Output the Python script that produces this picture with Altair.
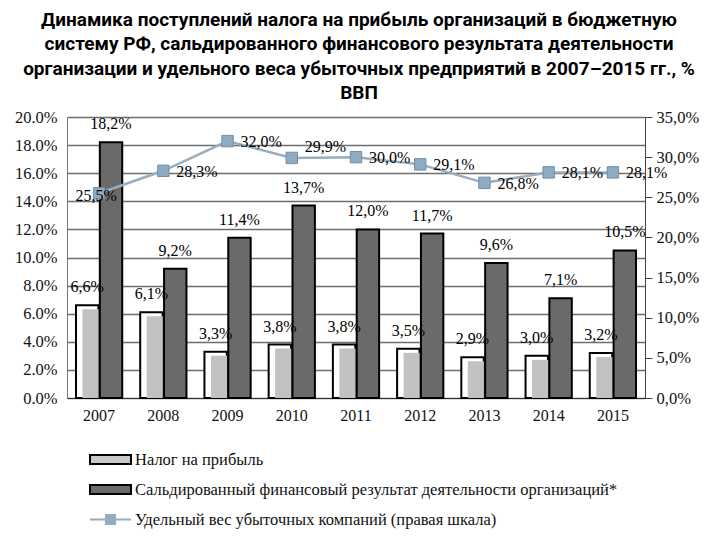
import altair as alt
import pandas as pd

years = ["2007", "2008", "2009", "2010", "2011", "2012", "2013", "2014", "2015"]
tax = [6.6, 6.1, 3.3, 3.8, 3.8, 3.5, 2.9, 3.0, 3.2]
fin = [18.2, 9.2, 11.4, 13.7, 12.0, 11.7, 9.6, 7.1, 10.5]
loss = [25.5, 28.3, 32.0, 29.9, 30.0, 29.1, 26.8, 28.1, 28.1]
series_names = [
    "Налог на прибыль",
    "Сальдированный финансовый результат деятельности организаций*",
    "Удельный вес убыточных компаний (правая шкала)",
]
title_lines = [
    "Динамика поступлений налога на прибыль организаций в бюджетную",
    "систему РФ, сальдированного финансового результата деятельности",
    "организации и удельного веса убыточных предприятий в 2007–2015 гг., %",
    "ВВП",
]

bars_df = pd.DataFrame({"year": years * 2, "s": ["a"] * 9 + ["b"] * 9, "v": tax + fin})
line_df = pd.DataFrame({"year": years, "v": loss})
legend_df = pd.DataFrame({"year": [years[0]] * 3, "v": [0] * 3, "series": series_names})

SERIF = "Liberation Serif, Times New Roman, serif"
LBL = "replace(format(datum.v, '.1f'), '.', ',') + '%'"

x_enc = alt.X(
    "year:N",
    scale=alt.Scale(paddingInner=0.28, paddingOuter=0.14),
    axis=alt.Axis(title=None, labelAngle=0, ticks=False, domainColor="#333",
                  labelFontSize=16, labelPadding=9),
)
yl = alt.Y(
    "v:Q",
    scale=alt.Scale(domain=[0, 20], nice=False),
    axis=alt.Axis(title=None, values=list(range(0, 21, 2)),
                  labelExpr="format(datum.value, '.1f') + '%'",
                  grid=True, gridColor="#6e6e6e", gridWidth=1.5, ticks=False,
                  domainColor="#777", labelFontSize=16.5, labelPadding=10),
)
yr = alt.Y(
    "v:Q",
    scale=alt.Scale(domain=[0, 35], nice=False),
    axis=alt.Axis(title=None, orient="right", values=list(range(0, 36, 5)),
                  labelExpr="replace(format(datum.value, '.1f'), '.', ',') + '%'",
                  grid=False, ticks=True, tickSize=7, tickColor="#444",
                  domainColor="#444", labelFontSize=16.5, labelPadding=4),
)
xo = alt.XOffset("s:N", scale=alt.Scale(paddingInner=0.06))

base_bars = alt.Chart(bars_df).encode(x=x_enc, xOffset=xo, y=yl)
bars = base_bars.mark_bar(stroke="black", strokeWidth=2).encode(
    fill=alt.condition("datum.s == 'a'", alt.value("white"), alt.value("#6a6a6a"))
)
inner = base_bars.transform_filter("datum.s == 'a'").mark_bar(
    fill="#c2c2c2", width=alt.RelativeBandSize(0.72), yOffset=4, clip=True
)
bar_text = base_bars.transform_calculate(lbl=LBL).mark_text(
    font=SERIF, fontSize=16, baseline="middle", dy=-18, color="black"
).encode(text="lbl:N")

leg_props = alt.Legend(
    title=None, orient="none", legendX=32, legendY=331, direction="vertical",
    labelFont=SERIF, labelFontSize=16.5, labelColor="#111", symbolSize=420,
    symbolStrokeWidth=2, labelOffset=13, rowPadding=9, padding=0,
    symbolOpacity=1, labelLimit=0,
)
shape_range = [
    "M-2,-0.45H2V0.45H-2Z",
    "M-2,-0.45H2V0.45H-2Z",
    "M-2,0H2M-0.45,-0.45H0.45V0.45H-0.45Z",
]
leg = alt.Chart(legend_df).mark_point(filled=True, opacity=0).encode(
    x=x_enc, y=yl,
    fill=alt.Fill("series:N", scale=alt.Scale(domain=series_names, range=["#c8c8c8", "#6a6a6a", "#8eabc2"]), legend=leg_props),
    stroke=alt.Stroke("series:N", scale=alt.Scale(domain=series_names, range=["black", "black", "#98adbf"]), legend=leg_props),
    shape=alt.Shape("series:N", scale=alt.Scale(domain=series_names, range=shape_range), legend=leg_props),
)

left = alt.layer(bars, inner, bar_text, leg)

line_base = alt.Chart(line_df).encode(x=x_enc, y=yr)
line = line_base.mark_line(color="#98adbf", strokeWidth=2.5)
pts = line_base.mark_point(shape="square", filled=True, size=130, fill="#8eabc2",
                           stroke="#6f8fa8", strokeWidth=1, opacity=1)
lt = line_base.transform_calculate(lbl=LBL)
t_norm = lt.transform_filter("datum.year != '2007' && datum.year != '2010'").mark_text(
    font=SERIF, fontSize=16, align="left", baseline="middle", dx=13, dy=1, color="black"
).encode(text="lbl:N")
t_2007 = lt.transform_filter("datum.year == '2007'").mark_text(
    font=SERIF, fontSize=16, align="center", baseline="middle", dx=-3, dy=3, color="black"
).encode(text="lbl:N")
t_2010 = lt.transform_filter("datum.year == '2010'").mark_text(
    font=SERIF, fontSize=16, align="left", baseline="middle", dx=13, dy=-11, color="black"
).encode(text="lbl:N")
right = alt.layer(line, pts, t_norm, t_2007, t_2010)

chart = alt.layer(left, right).resolve_scale(y="independent").properties(
    width=578, height=281,
    padding={"left": 59, "top": 109, "right": 67, "bottom": 134},
    autosize="none",
    title=alt.Title(
        title_lines,
        font="Roboto, Liberation Sans, sans-serif",
        fontSize=19, fontWeight="bold", lineHeight=24.5, anchor="middle",
        offset=6, dx=3, color="black",
    ),
).configure_view(stroke=None).configure_axis(labelFont=SERIF, labelColor="#111")

chart.save("out.html", embed_options={"renderer": "svg", "actions": False})
